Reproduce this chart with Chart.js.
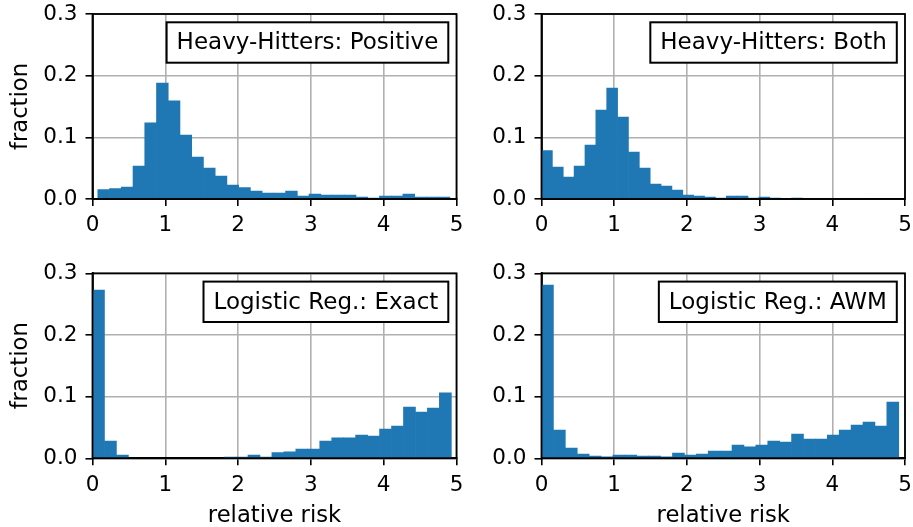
<!DOCTYPE html>
<html lang="en">
<head>
<meta charset="UTF-8">
<title>Relative risk histograms</title>
<script src="https://cdn.jsdelivr.net/npm/chart.js"></script>
<style>
  body { margin: 0; background: #fff; width: 913px; height: 527px; overflow: hidden; position: relative; }
  .panel { position: absolute; }
</style>
</head>
<body>
<div class="panel" style="left:0;top:0;width:470px;height:250px"><canvas id="c0"></canvas></div>
<div class="panel" style="left:450px;top:0;width:463px;height:250px"><canvas id="c1"></canvas></div>
<div class="panel" style="left:0;top:260px;width:470px;height:270px"><canvas id="c2"></canvas></div>
<div class="panel" style="left:450px;top:260px;width:463px;height:270px"><canvas id="c3"></canvas></div>

<script>
// axis ticks
const xTicks = [0, 1, 2, 3, 4, 5];
const yTicks = [0, 0.1, 0.2, 0.3];

// Heavy-Hitters: Positive (30 bins)
const hhPositiveStart = 0.073, hhPositiveWidth = 0.1612;
const hhPositive = [0.0151, 0.0168, 0.0195, 0.0535, 0.1237, 0.188, 0.159, 0.1037, 0.068, 0.050,
                    0.037, 0.0227, 0.0184, 0.013, 0.0097, 0.0097, 0.013, 0.0049, 0.0081, 0.0065,
                    0.0065, 0.0065, 0.0032, 0.0016, 0.0049, 0.0049, 0.0081, 0.0032, 0.0032, 0.0032];

// Heavy-Hitters: Both
const hhBothStart = 0, hhBothWidth = 0.1495;
const hhBoth = [0.0784, 0.0519, 0.0357, 0.0535, 0.0875, 0.144, 0.180, 0.133, 0.076, 0.050,
                0.0243, 0.021, 0.0146, 0.0065, 0.0049, 0.0032, 0.0016, 0.0049, 0.0049, 0.0016,
                0.0032, 0.0016, 0, 0.0016, 0, 0, 0, 0, 0, 0];

// Logistic Reg.: Exact
const lrExactStart = 0, lrExactWidth = 0.1643;
const lrExact = [0.2728, 0.0281, 0.0054, 0, 0, 0, 0, 0, 0, 0,
                 0, 0.002, 0.002, 0.0054, 0.0018, 0.0091, 0.0103, 0.0151, 0.0151, 0.028,
                 0.033, 0.033, 0.0378, 0.036, 0.0475, 0.0524, 0.0832, 0.0751, 0.0816, 0.106];

// Logistic Reg.: AWM
const lrAwmStart = 0, lrAwmWidth = 0.1638;
const lrAwm = [0.281, 0.0459, 0.0167, 0.0070, 0.0038, 0.0022, 0.0054, 0.0054, 0.0038, 0.0038,
               0.0022, 0.0086, 0.0054, 0.0070, 0.0119, 0.0119, 0.0216, 0.0184, 0.0216, 0.0281,
               0.0265, 0.0394, 0.0313, 0.0313, 0.0378, 0.0459, 0.054, 0.0589, 0.0524, 0.0913];

const FONT = 'DejaVu Sans';
const LABEL_SIZE = 22.7;
const BOX_SIZE = 23;
const TICK_SIZE = 21.5;

function toBins(start, width, values) {
  return values.map((v, i) => ({ x: start + (i + 0.5) * width, y: v }));
}

// black frame on all four sides + the label box in the upper right
const framePlugin = {
  id: 'frame',
  afterDraw(chart, args, opts) {
    const { ctx, chartArea: a } = chart;
    ctx.save();
    ctx.strokeStyle = '#000';
    ctx.lineWidth = 1.8;
    ctx.strokeRect(a.left, a.top, a.right - a.left, a.bottom - a.top);

    ctx.font = BOX_SIZE + 'px "' + FONT + '"';
    const w = ctx.measureText(opts.text).width + 20;
    const h = 40.4;
    const x = a.right - 8.2 - w, y = a.top + 8.3;
    ctx.fillStyle = '#fff';
    ctx.fillRect(x, y, w, h);
    ctx.lineWidth = 2;
    ctx.strokeRect(x, y, w, h);
    ctx.fillStyle = '#000';
    ctx.textAlign = 'left';
    ctx.textBaseline = 'middle';
    ctx.fillText(opts.text, x + 10, y + h / 2 + 1);
    ctx.restore();
  }
};

function makePanel(id, data, label, g) {
  new Chart(document.getElementById(id), {
    type: 'bar',
    data: {
      datasets: [{
        data: data,
        backgroundColor: '#1f77b4',
        borderWidth: 0,
        barPercentage: 1,
        categoryPercentage: 1
      }]
    },
    options: {
      responsive: true,
      maintainAspectRatio: false,
      animation: false,
      layout: { padding: { left: 0, top: g.top, right: g.right, bottom: 0 } },
      plugins: {
        legend: { display: false },
        tooltip: { enabled: false },
        frame: { text: label }
      },
      scales: {
        x: {
          type: 'linear',
          min: 0, max: 5,
          offset: false,
          z: 1,
          afterBuildTicks: s => { s.ticks = xTicks.map(v => ({ value: v })); },
          afterFit: s => { s.height = g.xh; s.paddingLeft = 0; s.paddingRight = 0; },
          grid: { offset: false, color: '#b0b0b0', lineWidth: 1.6, tickLength: 7, tickColor: '#000', tickWidth: 1.6 },
          border: { color: '#000', width: 1.8 },
          ticks: { color: '#000', font: { family: FONT, size: TICK_SIZE }, padding: 7, maxRotation: 0,
                   callback: v => String(v) },
          title: { display: g.xTitle, text: 'relative risk', color: '#000',
                   font: { family: FONT, size: LABEL_SIZE }, padding: { top: 0, bottom: 0 } }
        },
        y: {
          min: 0, max: 0.3,
          z: 1,
          afterBuildTicks: s => { s.ticks = yTicks.map(v => ({ value: v })); },
          afterFit: s => { s.width = g.yw; s.paddingTop = 0; s.paddingBottom = 0; },
          grid: { color: '#b0b0b0', lineWidth: 1.6, tickLength: 7, tickColor: '#000', tickWidth: 1.6 },
          border: { color: '#000', width: 1.8 },
          ticks: { color: '#000', font: { family: FONT, size: TICK_SIZE }, padding: 8,
                   callback: v => v.toFixed(1) },
          title: { display: g.yTitle, text: 'fraction', color: '#000',
                   font: { family: FONT, size: LABEL_SIZE }, padding: { top: 7, bottom: 0 } }
        }
      }
    },
    plugins: [framePlugin]
  });
}

makePanel('c0', toBins(hhPositiveStart, hhPositiveWidth, hhPositive), 'Heavy-Hitters: Positive',
  { top: 14, right: 13.5, yw: 92.5, xh: 51, yTitle: true, xTitle: false });
makePanel('c1', toBins(hhBothStart, hhBothWidth, hhBoth), 'Heavy-Hitters: Both',
  { top: 14, right: 8, yw: 91.5, xh: 51, yTitle: false, xTitle: false });
makePanel('c2', toBins(lrExactStart, lrExactWidth, lrExact), 'Logistic Reg.: Exact',
  { top: 13.3, right: 13.5, yw: 92.5, xh: 71.7, yTitle: true, xTitle: true });
makePanel('c3', toBins(lrAwmStart, lrAwmWidth, lrAwm), 'Logistic Reg.: AWM',
  { top: 13.3, right: 8, yw: 91.5, xh: 71.7, yTitle: false, xTitle: true });
</script>
</body>
</html>
